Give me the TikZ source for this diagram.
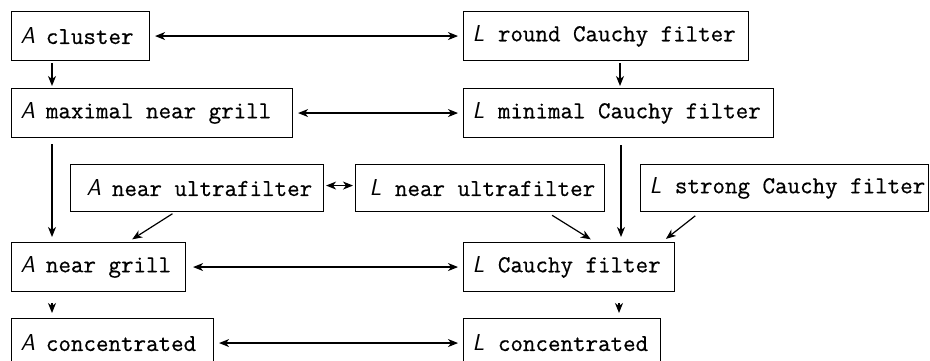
\documentclass[tikz,border=0pt]{standalone}
\usepackage{fontspec}
\newfontfamily\twfont{Latin Modern Mono}[FakeBold=0.6]
\usetikzlibrary{arrows.meta}
\newcommand{\Aa}{\makebox[25.4pt][l]{\fontsize{23}{25}\sffamily\itshape A}}
\newcommand{\Ll}{\makebox[25.4pt][l]{\fontsize{23}{25}\sffamily\itshape L}}
\newcommand{\bx}[2]{\makebox[#1][l]{#2}}
\begin{document}
\begin{tikzpicture}[x=1pt,y=-1pt,
  box/.style={draw, line width=1.1pt, anchor=north west, minimum height=49pt,
    inner ysep=0pt, inner xsep=9pt,
    font=\fontsize{24.3}{27}\twfont},
  arr/.style={line width=1.2pt, -{Stealth[length=10pt,width=8pt,inset=3pt]}},
  biarr/.style={line width=1.2pt, {Stealth[length=10pt,width=8pt,inset=3pt]}-{Stealth[length=10pt,width=8pt,inset=3pt]}}]
\clip (0,0) rectangle (930,361);
\fill[white] (0,0) rectangle (930,361);
% row 1
\node[box] (c1) at (11,11) {\bx{120pt}{\Aa cluster}};
\node[box] (r1) at (463,11) {\bx{267pt}{\Ll round Cauchy filter}};
% row 2
\node[box] (c2) at (11,88) {\bx{263pt}{\Aa maximal near grill}};
\node[box] (r2) at (463,88) {\bx{292pt}{\Ll minimal Cauchy filter}};
% row 3
\node[box, minimum height=47pt] (m1) at (70,164) {\bx{235pt}{\hspace*{7pt}\Aa near ultrafilter}};
\node[box, minimum height=47pt] (m2) at (355,164) {\bx{231pt}{\hspace*{5pt}\Ll near ultrafilter}};
\node[box, minimum height=47pt] (m3) at (640,164) {\bx{270pt}{\Ll strong Cauchy filter}};
% row 4
\node[box] (c4) at (11,242) {\bx{156pt}{\Aa near grill}};
\node[box] (r4) at (463,242) {\bx{193pt}{\Ll Cauchy filter}};
% row 5
\node[box] (c5) at (11,318) {\bx{184pt}{\Aa concentrated}};
\node[box] (r5) at (463,318) {\bx{179pt}{\Ll concentrated}};
% horizontal double arrows
\draw[biarr, shorten <=5pt, shorten >=5pt] (c1.east) -- (r1.west);
\draw[biarr, shorten <=5pt, shorten >=5pt] (c2.east) -- (r2.west);
\draw[biarr, shorten <=2pt, shorten >=2pt] ([yshift=2.5pt]m1.east) -- ([yshift=2.5pt]m2.west);
\draw[biarr, shorten <=7pt, shorten >=5pt] (c4.east) -- (r4.west);
\draw[biarr, shorten <=5pt, shorten >=5pt] (c5.east) -- (r5.west);
% vertical arrows
\draw[arr, shorten <=2pt, shorten >=2pt] ([xshift=41pt]c1.south west) -- ([xshift=41pt]c2.north west);
\draw[arr, shorten <=2pt, shorten >=2pt] ([xshift=157pt]r1.south west) -- ([xshift=157pt]r2.north west);
\draw[arr, shorten <=6pt, shorten >=5pt] ([xshift=41pt]c2.south west) -- ([xshift=41pt]c4.north west);
\draw[arr, shorten <=7pt, shorten >=5pt] ([xshift=158pt]r2.south west) -- ([xshift=158pt]r4.north west);
\draw[arr, shorten <=11pt, shorten >=5pt] ([xshift=41pt]c4.south west) -- ([xshift=41pt]c5.north west);
\draw[arr, shorten <=11pt, shorten >=5pt] ([xshift=156pt]r4.south west) -- ([xshift=156pt]r5.north west);
% diagonal arrows
\draw[arr, shorten <=3pt, shorten >=5pt] ([xshift=105pt]m1.south west) -- ([xshift=117pt]c4.north west);
\draw[arr, shorten <=6pt, shorten >=5pt] ([xshift=192pt]m2.south west) -- ([xshift=132pt]r4.north west);
\draw[arr, shorten <=6pt, shorten >=5pt] ([xshift=60pt]m3.south west) -- ([xshift=199pt]r4.north west);
\end{tikzpicture}
\end{document}
